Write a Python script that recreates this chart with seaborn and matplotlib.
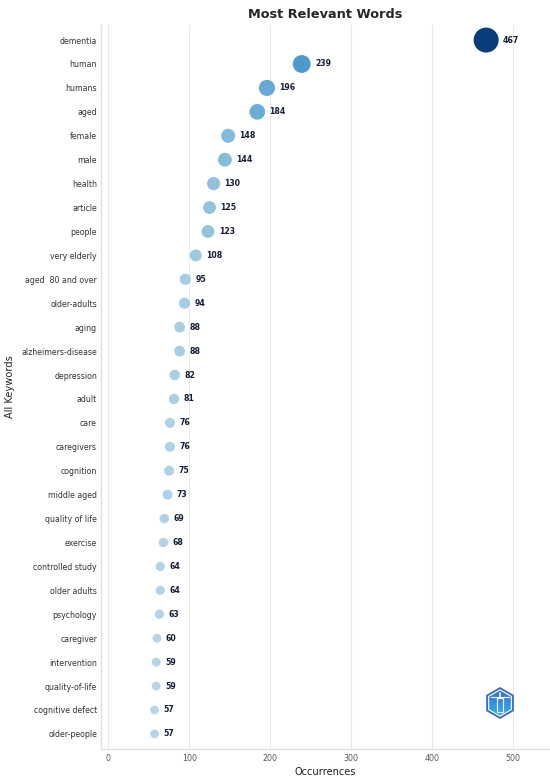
import numpy as np
import pandas as pd
import seaborn as sns
import matplotlib.pyplot as plt
from matplotlib.colors import LinearSegmentedColormap
from matplotlib.patches import RegularPolygon

# Datos: palabras clave y ocurrencias
keywords = ["dementia", "human", "humans", "aged", "female", "male", "health",
            "article", "people", "very elderly", "aged  80 and over", "older-adults",
            "aging", "alzheimers-disease", "depression", "adult", "care", "caregivers",
            "cognition", "middle aged", "quality of life", "exercise", "controlled study",
            "older adults", "psychology", "caregiver", "intervention", "quality-of-life",
            "cognitive defect", "older-people"]
occurrences = [467, 239, 196, 184, 148, 144, 130, 125, 123, 108, 95, 94, 88, 88,
               82, 81, 76, 76, 75, 73, 69, 68, 64, 64, 63, 60, 59, 59, 57, 57]

df = pd.DataFrame({"keyword": keywords, "occ": occurrences})

sns.set_style("white")
plt.rcParams['font.family'] = ['DejaVu Sans']

fig = plt.figure(figsize=(5.5, 7.81), dpi=100)
ax = fig.add_axes([0.184, 0.041, 0.816, 0.927])

# Paleta Blues recortada
cmap = LinearSegmentedColormap.from_list(
    "blues_cut", plt.cm.Blues(np.linspace(0.3, 0.95, 256)))

s_min, s_max = 39, 324
sns.scatterplot(data=df, x="occ", y="keyword", hue="occ", size="occ",
                palette=cmap, hue_norm=(57, 467), sizes=(s_min, s_max),
                size_norm=(57, 467), edgecolor="none", legend=False, ax=ax,
                zorder=3)

# Etiquetas de valores
for i, v in enumerate(occurrences):
    s = s_min + (v - 57) / (467 - 57) * (s_max - s_min)
    r = np.sqrt(s) / 2
    ax.annotate(str(v), (v, i), xytext=(r + 3.2, 0), textcoords="offset points",
                va="center", ha="left", fontsize=5.6, fontweight="bold",
                color="#141c33")

ax.set_xlim(-9, 546)
ax.set_ylim(29.63, -0.63)
ax.set_xticks([0, 100, 200, 300, 400, 500])
ax.grid(axis="x", color="#e8e8e8", linewidth=0.8, zorder=0)
ax.grid(axis="y", visible=False)
ax.tick_params(axis="y", length=0, labelsize=5.7, colors="#333333", pad=3)
ax.tick_params(axis="x", length=0, labelsize=5.7, colors="#555555", pad=3.5)
for side in ["top", "right"]:
    ax.spines[side].set_visible(False)
for side in ["left", "bottom"]:
    ax.spines[side].set_color("#e0e0e0")
    ax.spines[side].set_linewidth(1)

ax.set_xlabel("Occurrences", fontsize=7.1, color="#222222", labelpad=3)
ax.set_ylabel("All Keywords", fontsize=7.1, color="#222222")
ax.yaxis.set_label_coords(-0.192, 0.5)
ax.set_title("Most Relevant Words", fontsize=9.3, fontweight="bold", pad=5)

# Logo aproximado (hexágono con degradado)
lax = fig.add_axes([484 / 550, 1 - 720 / 781, 32 / 550, 34 / 781])
lax.set_xlim(-1, 1)
lax.set_ylim(-1.06, 1.06)
lax.axis("off")
outer = RegularPolygon((0, 0), numVertices=6, radius=1.0, orientation=0,
                       facecolor="#3f6fc6", edgecolor="none", zorder=1)
lax.add_patch(outer)
inner = RegularPolygon((0, 0), numVertices=6, radius=0.82, orientation=0,
                       facecolor="none", edgecolor="white", linewidth=0.8,
                       zorder=3)
lax.add_patch(inner)
grad = np.linspace(0, 1, 64).reshape(-1, 1)
gcmap = LinearSegmentedColormap.from_list("logo", ["#2fb4f2", "#3a70cf"])
img = lax.imshow(grad, extent=(-0.8, 0.8, -0.8, 0.8), origin="lower",
                 cmap=gcmap, aspect="auto", zorder=2)
img.set_clip_path(inner)
lax.plot([-0.55, 0.55], [0.35, 0.35], color="white", lw=0.8, zorder=4)
lax.plot([0, 0], [0.35, 0.6], color="white", lw=1.2, zorder=4)
lax.add_patch(plt.Rectangle((-0.18, -0.55), 0.36, 0.85, facecolor="none",
                            edgecolor="white", lw=0.8, zorder=4))

fig.savefig("out.png", dpi=100)
